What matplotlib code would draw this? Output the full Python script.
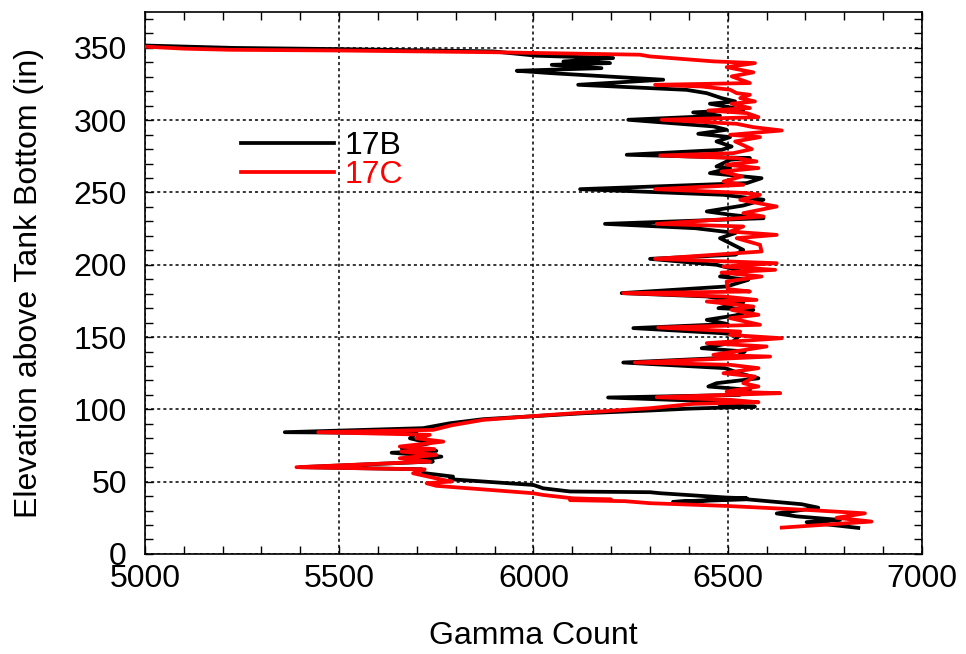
import numpy as np
import matplotlib
matplotlib.use("Agg")
import matplotlib.pyplot as plt
from matplotlib.ticker import MultipleLocator

plt.rcParams['font.family'] = ['Liberation Sans', 'DejaVu Sans']

# 17B: elevation (in) and gamma count, read bottom to top
elev_b = [18, 22, 23.5, 26, 28, 32, 34.4, 37.8, 36, 38.5, 39, 42, 42.7, 43, 43.2, 45.4, 47.7,
          51.7, 53.5, 56, 58.6, 60, 63.9, 65, 67.3, 70, 71.3, 73, 76.6, 80, 83.5, 84.2, 87,
          90.4, 93.2, 97.3, 99.2, 100.5, 101.9, 103, 105, 108.2, 110, 113.5, 115.8, 118.1,
          121.5, 125, 128.5, 132.4, 136, 140, 142.3, 146, 151.5, 152.7, 156.2, 159, 161.9,
          165, 168.8, 170, 174, 178.1, 180.4, 185, 189.6, 191.9, 196, 200, 204.1, 207, 210.3,
          214.9, 218.4, 222, 225.3, 228.3, 232.2, 234.5, 236.9, 241, 245, 248.4, 252.3,
          256.5, 259.9, 263.4, 266.9, 268, 272.6, 273.8, 276.1, 279.5, 281.8, 285.3, 288.3,
          290.6, 293.4, 295.7, 300.3, 303.1, 305.4, 307.2, 311.4, 313, 315.3, 318.7, 321,
          324.5, 328, 332.6, 334.2, 336, 338.3, 339.5, 340.6, 343, 344.6, 347.6, 349.2, 350,
          351.7]
count_b = [6836, 6703, 6789, 6677, 6626, 6733, 6690, 6549, 6359, 6549, 6497, 6326, 6300, 6171,
           6094, 6025, 6000, 5785, 5793, 5716, 5712, 5400, 5741, 5708, 5763, 5635, 5750, 5661,
           5734, 5682, 5699, 5360, 5716, 5785, 5870, 6128, 6300, 6400, 6570, 6480, 6520, 6192,
           6530, 6557, 6450, 6471, 6579, 6530, 6493, 6231, 6520, 6544, 6433, 6510, 6532, 6484,
           6257, 6500, 6446, 6520, 6566, 6476, 6540, 6446, 6227, 6497, 6553, 6480, 6530, 6471,
           6300, 6520, 6540, 6506, 6480, 6520, 6416, 6184, 6592, 6510, 6446, 6540, 6592, 6489,
           6120, 6549, 6587, 6454, 6506, 6471, 6506, 6557, 6240, 6484, 6510, 6471, 6506, 6424,
           6497, 6463, 6244, 6480, 6411, 6540, 6454, 6519, 6484, 6446, 6394, 6115, 6334, 6042,
           5957, 6175, 6047, 6197, 6077, 6205, 6008, 5896, 5493, 5230, 4996]

# 17C
elev_c = [18.2, 22.4, 25, 28.1, 30.5, 33.2, 35.1, 36.5, 37.2, 37.6, 38.5, 40.8, 42, 47.1,
          48.9, 50.1, 51.2, 55.8, 58.5, 60, 63.9, 66.2, 68.5, 70.8, 72.5, 74.3, 77.7, 80,
          82.4, 84.2, 85.8, 89, 92.7, 96.2, 100.8, 103.8, 104.9, 106.6, 108.4, 111.2, 112.3,
          115.8, 118.1, 122.7, 125, 128.5, 130.8, 132.4, 136.5, 137.7, 143.5, 145.8, 149.2,
          151.5, 153.8, 156.6, 158.5, 163.1, 165.4, 168.8, 171.1, 174.6, 175.7, 178.1, 180.4,
          181.5, 183.2, 188.4, 191.9, 194.6, 196.5, 198.8, 201.1, 204.1, 209.2, 213.8, 218.4,
          220.7, 223, 226.5, 228.3, 233.4, 235.7, 240.3, 244.9, 248.4, 249.6, 252.3, 255.3,
          257.6, 261.1, 264.5, 266.9, 269.2, 271.5, 273.8, 275.6, 277.2, 280, 285.3, 288.3,
          289.9, 292.9, 295.2, 297.5, 300.3, 302.1, 304.9, 306.7, 308.4, 311.4, 313, 315.3,
          317.6, 318.7, 321.1, 323.3, 324.5, 325.7, 330.3, 333.1, 336.7, 339.5, 340.7, 344.1,
          345.3, 347, 348.2, 348.7, 349.5, 351]
count_c = [6639, 6870, 6780, 6853, 6700, 6497, 6300, 6235, 6094, 6200, 6100, 6025, 5999, 5750,
           5725, 5789, 5768, 5690, 5720, 5390, 5733, 5656, 5750, 5660, 5745, 5656, 5768, 5699,
           5733, 5446, 5742, 5790, 5870, 6042, 6300, 6411, 6579, 6506, 6317, 6635, 6497, 6579,
           6540, 6570, 6489, 6579, 6506, 6261, 6609, 6463, 6600, 6446, 6639, 6506, 6532, 6321,
           6583, 6506, 6579, 6510, 6566, 6446, 6574, 6489, 6231, 6557, 6500, 6497, 6587, 6484,
           6622, 6489, 6626, 6313, 6587, 6583, 6523, 6626, 6506, 6540, 6317, 6592, 6540, 6626,
           6532, 6583, 6549, 6313, 6540, 6489, 6536, 6484, 6579, 6497, 6574, 6523, 6326, 6514,
           6562, 6519, 6583, 6506, 6639, 6566, 6523, 6330, 6579, 6549, 6450, 6557, 6510, 6570,
           6532, 6557, 6523, 6506, 6433, 6313, 6557, 6510, 6566, 6497, 6570, 6463, 6300, 6274,
           5900, 5502, 5219, 5100, 4990]

fig = plt.figure(figsize=(9.66, 6.54), dpi=100)
ax = fig.add_axes([0.150, 0.153, 0.8045, 0.829])

ax.plot(count_b, elev_b, color='black', lw=2.7, label='17B', zorder=3)
ax.plot(count_c, elev_c, color='red', lw=2.7, label='17C', zorder=4)

ax.set_xlim(5000, 7000)
ax.set_ylim(0, 375)
ax.xaxis.set_major_locator(MultipleLocator(500))
ax.xaxis.set_minor_locator(MultipleLocator(100))
ax.yaxis.set_major_locator(MultipleLocator(50))
ax.yaxis.set_minor_locator(MultipleLocator(10))
ax.grid(True, which='major', color='black', linestyle=(0, (2, 2)), linewidth=1.1)
ax.tick_params(which='both', direction='in', top=True, right=True, length=6, width=1,
               labelsize=23)
ax.tick_params(axis='x', pad=7)
ax.tick_params(axis='y', pad=13)
for s in ax.spines.values():
    s.set_linewidth(1.2)

ax.set_xlabel('Gamma Count', fontsize=23, labelpad=20)
ax.set_ylabel('Elevation above Tank Bottom (in)', fontsize=23, labelpad=21)

ax.legend(loc='upper left', bbox_to_anchor=(0.103, 0.81), frameon=False, fontsize=23,
          handlelength=2.9, handletextpad=0.35, labelspacing=-0.02, borderpad=0,
          labelcolor='linecolor')

fig.savefig('out.png', dpi=100)
